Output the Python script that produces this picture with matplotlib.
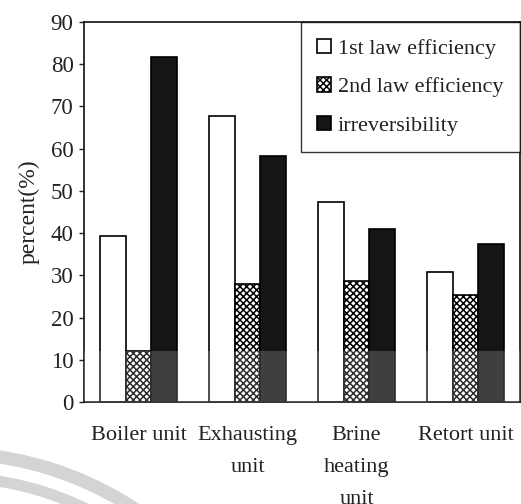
import matplotlib
matplotlib.use('Agg')
import matplotlib.pyplot as plt
from matplotlib.patches import Arc
import numpy as np

plt.rcParams['font.family'] = ['Liberation Serif', 'DejaVu Serif']
plt.rcParams['hatch.linewidth'] = 1.1

# Energy / exergy figures for each unit of the plant
units = ['Boiler unit', 'Exhausting\nunit', 'Brine\nheating\nunit', 'Retort unit']
first_law = [39.3, 67.8, 47.4, 30.8]
second_law = [12.1, 28.0, 28.7, 25.4]
irreversibility = [81.6, 58.3, 41.0, 37.4]
series_names = ['1st law efficiency', '2nd law efficiency', 'irreversibility']

fig = plt.figure(figsize=(5.21, 5.04), dpi=100)
ax = fig.add_axes([0.1612, 0.2024, 0.837, 0.7540])

x = np.arange(len(units))
w = 0.235
ax.bar(x - w, first_law, w, color='white', edgecolor='black', linewidth=1.2,
       label=series_names[0], zorder=2)
ax.bar(x, second_law, w, color='white', edgecolor='black', linewidth=1.2,
       hatch='xxxxx', label=series_names[1], zorder=2)
ax.bar(x + w, irreversibility, w, color='#151515', edgecolor='black', linewidth=1.2,
       label=series_names[2], zorder=2)

# lighter strip along the bottom of the scanned figure
ax.axhspan(0, 12, color='white', alpha=0.18, zorder=3, linewidth=0)

ax.set_xlim(-0.5, 3.5)
ax.set_ylim(0, 90)
ax.set_yticks(np.arange(0, 91, 10))
ax.set_xticks(x)
ax.set_xticklabels(units)
ax.tick_params(axis='x', length=0, pad=17, labelsize=16, colors='#222222')
ax.tick_params(axis='y', length=3.5, width=1, pad=4, labelsize=16.5, colors='#222222')
for lab in ax.get_xticklabels():
    lab.set_linespacing(1.95)
ax.set_ylabel('percent(%)', fontsize=17, color='#222222', labelpad=8)
for s in ax.spines.values():
    s.set_linewidth(1.2)
    s.set_color('#111111')

leg = ax.legend(loc='upper right', bbox_to_anchor=(1.0, 1.0), borderaxespad=0,
                fontsize=16, frameon=True, fancybox=False, edgecolor='black',
                handlelength=0.62, handleheight=0.62, handletextpad=0.3,
                labelspacing=0.83, borderpad=0.75)
leg.get_frame().set_linewidth(1.0)
for t in leg.get_texts():
    t.set_color('#222222')

# faint grey arcs in the lower left corner
for r, lw in [(3.40, 9.5), (3.16, 8.0)]:
    arc = Arc((-0.52, -2.89), 2 * r, 2 * r, theta1=45, theta2=100,
              transform=fig.dpi_scale_trans, color='#d4d4d4', linewidth=lw)
    fig.add_artist(arc)

fig.savefig('out.png', dpi=100)
